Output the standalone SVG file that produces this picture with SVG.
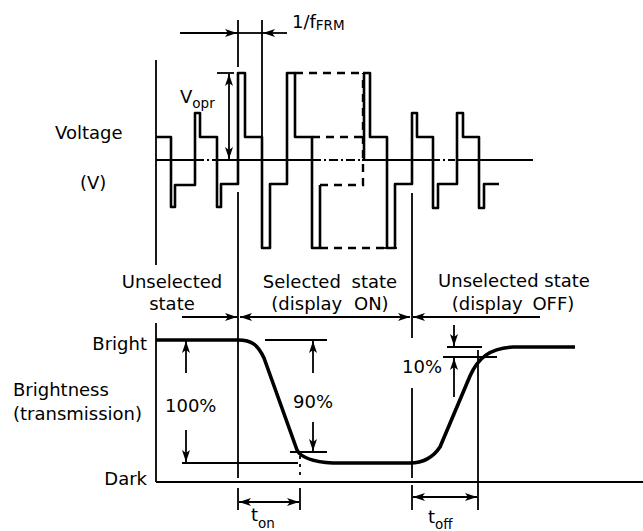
<svg xmlns="http://www.w3.org/2000/svg" width="643" height="531" viewBox="0 0 643 531">
<style>
text{font-family:"DejaVu Sans","Liberation Sans",sans-serif;font-size:18px;fill:#000}
.sub{font-size:13.5px}
.ln{stroke:#000;stroke-width:1.8;fill:none}
.wv{stroke:#000;stroke-width:2.6;fill:none;stroke-linejoin:round}
.dsh{stroke:#000;stroke-width:2.4;fill:none;stroke-dasharray:8 6}
.crv{stroke:#000;stroke-width:3.6;fill:none;stroke-linejoin:round}
.ar{stroke:#000;stroke-width:1.8;fill:none;marker-end:url(#ah)}
.ar2{stroke:#000;stroke-width:1.8;fill:none;marker-end:url(#ah);marker-start:url(#ah)}
</style>
<defs>
<marker id="ah" viewBox="0 0 12 8" refX="12" refY="4" markerWidth="13" markerHeight="8" markerUnits="userSpaceOnUse" orient="auto-start-reverse">
<path d="M0,0 L12,4 L0,8 L3,4 z" fill="#000"/>
</marker>
</defs>
<rect width="643" height="531" fill="#fff"/>

<g id="voltage-chart">
<line class="ln" x1="156" y1="60" x2="156" y2="265"/>
<g id="baseline">
<line class="ln" x1="156" y1="160" x2="197" y2="160" stroke-width="2.4"/>
<line class="ln" x1="197" y1="160" x2="217" y2="160" stroke-width="2.4" stroke-dasharray="7 3 2 3"/>
<line class="ln" x1="217" y1="160" x2="312" y2="160" stroke-width="2.4"/>
<line class="ln" x1="312" y1="160" x2="362" y2="160" stroke-width="2.4" stroke-dasharray="9 3 2 3"/>
<line class="ln" x1="362" y1="160" x2="433" y2="160" stroke-width="2.4"/>
<line class="ln" x1="433" y1="160" x2="457" y2="160" stroke-width="2.4" stroke-dasharray="7 3 2 3"/>
<line class="ln" x1="457" y1="160" x2="533" y2="160" stroke-width="2.4"/>
</g>
<path class="wv" d="M156,137 H171 V207 H175 V185 H195 V113 H200 V137 H217 V207 H221 V184 H238 V73 H245 V137 H262 V248 H270 V184 H287 V73 H295 V137 H312 V248 H320 V185"/>
<path class="dsh" d="M295,73 H363 M312,137 H363 M320,185 H363 V73 M320,248 H386"/>
<path class="wv" d="M364,73 V160 M363,73 H370 V137 H387 V248 H395 V184 H412 V113 H417 V137 H433 V208 H438 V184 H457 V113 H463 V137 H479 V208 H484 V184 H499"/>
<line class="ln" x1="381" y1="248" x2="397" y2="248" stroke-width="2.4"/>
<text x="55" y="139">Voltage</text>
<text x="80" y="189">(V)</text>
</g>

<g id="frame-period">
<line class="ln" x1="238" y1="20" x2="238" y2="67"/>
<line class="ln" x1="262" y1="20" x2="262" y2="137"/>
<line class="ar" x1="180" y1="33" x2="237" y2="33"/>
<line class="ln" x1="237" y1="33" x2="263" y2="33"/>
<line class="ar" x1="287" y1="33" x2="263" y2="33"/>
<text x="292" y="28">1/f<tspan class="sub" y="30">FRM</tspan></text>
</g>

<g id="vopr">
<line class="ln" x1="217" y1="73" x2="234" y2="73"/>
<line class="ar2" x1="229" y1="74" x2="229" y2="159"/>
<text x="180" y="103">V<tspan class="sub" y="108">opr</tspan></text>
</g>

<g id="state-labels">
<text x="172" y="288" text-anchor="middle">Unselected</text>
<text x="172" y="310" text-anchor="middle">state</text>
<text x="330" y="288" text-anchor="middle" word-spacing="5">Selected state</text>
<text x="330" y="310" text-anchor="middle" word-spacing="6">(display ON)</text>
<text x="514" y="287" text-anchor="middle">Unselected state</text>
<text x="513" y="310" text-anchor="middle" word-spacing="4">(display OFF)</text>
<line class="ar" x1="182" y1="317" x2="237" y2="317"/>
<line class="ar2" x1="240" y1="317" x2="410" y2="317"/>
<line class="ar" x1="540" y1="317" x2="413" y2="317"/>
</g>

<g id="connectors">
<line class="ln" x1="238" y1="192" x2="238" y2="478"/>
<line class="ln" x1="412" y1="193" x2="412" y2="338"/>
<line class="ln" x1="412" y1="388" x2="412" y2="478"/>
<line class="ln" x1="238" y1="488" x2="238" y2="510"/>
<line class="ln" x1="300" y1="488" x2="300" y2="510"/>
<line class="ln" x1="300" y1="456" x2="300" y2="480" stroke-width="1.4" stroke-dasharray="3 5"/>
<line class="ln" x1="412" y1="485" x2="412" y2="510"/>
<line class="ln" x1="478" y1="350" x2="478" y2="510"/>
<line class="ar2" x1="239" y1="502" x2="299" y2="502"/>
<line class="ar2" x1="413" y1="497" x2="477" y2="497"/>
</g>

<g id="brightness-chart">
<line class="ln" x1="156" y1="323" x2="156" y2="482"/>
<line class="ln" x1="156" y1="482" x2="643" y2="482" stroke-width="2"/>
<path class="crv" d="M156,340 L238,340 C252,340 258,345 264,358 L297,450 C301,458 315,462 333,463 L410,463 C421,463 432,459 440,447 L470,376 C478,358 490,348 513,347 L575,347"/>
<line class="ln" x1="182" y1="463" x2="298" y2="463"/>
<line class="ln" x1="265" y1="340" x2="327" y2="340"/>
<line class="ln" x1="290" y1="452" x2="327" y2="452"/>
<line class="ln" x1="447" y1="347" x2="482" y2="347"/>
<line class="ln" x1="443" y1="357" x2="497" y2="357"/>
<line class="ar" x1="186" y1="373" x2="186" y2="341"/>
<line class="ar" x1="186" y1="430" x2="186" y2="462"/>
<line class="ar" x1="313" y1="373" x2="313" y2="341"/>
<line class="ar" x1="313" y1="422" x2="313" y2="451"/>
<line class="ar" x1="454" y1="325" x2="454" y2="346"/>
<line class="ar" x1="454" y1="397" x2="454" y2="358"/>
<text x="147" y="350" text-anchor="end">Bright</text>
<text x="147" y="485" text-anchor="end">Dark</text>
<text x="13" y="396">Brightness</text>
<text x="13" y="420">(transmission)</text>
<text x="165" y="412">100%</text>
<text x="293" y="408">90%</text>
<text x="402" y="373">10%</text>
<text x="251" y="521" font-size="17">t<tspan class="sub" y="528">on</tspan></text>
<text x="428" y="523" font-size="17">t<tspan class="sub" y="529">off</tspan></text>
</g>
</svg>
